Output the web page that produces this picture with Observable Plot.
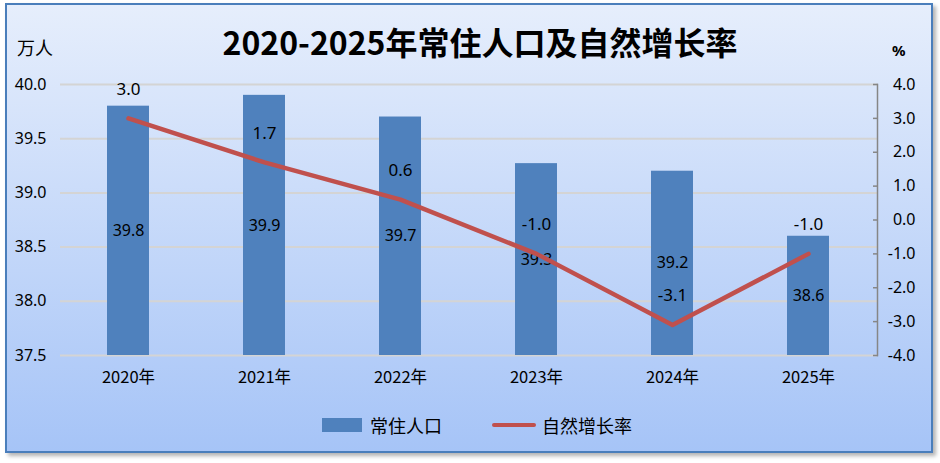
<!DOCTYPE html>
<html>
<head>
<meta charset="utf-8">
<script src="https://cdn.jsdelivr.net/npm/d3@7"></script>
<script src="https://cdn.jsdelivr.net/npm/@observablehq/plot@0.6"></script>
<style>
  html, body { margin: 0; padding: 0; background: #ffffff; }
  #wrap { position: relative; width: 940px; height: 463px; overflow: hidden; font-family: "Noto Sans", "Noto Sans CJK SC", sans-serif; }
  #box { position: absolute; left: 5px; top: 3px; width: 924px; height: 446px;
         border: 2.5px solid #4A7EBB; background: linear-gradient(#E6EEFC, #A6C4F7);
         box-shadow: 3px 3px 4px rgba(0,0,0,0.3); }
  #chart { position: absolute; left: 0; top: 0; }
  .t { position: absolute; color: #000; white-space: nowrap; }
  #title { left: 0; width: 960px; top: 21px; text-align: center; font-size: 32px; font-weight: bold;
           font-family: "Noto Sans CJK SC", sans-serif; line-height: 40px; }
  #unitL { left: 17px; top: 34px; font-size: 18px; font-family: "Noto Sans CJK SC", sans-serif; }
  #unitR { left: 892px; top: 40px; font-size: 15px; font-weight: bold; }
  #legend { left: 322px; top: 412px; font-size: 18px; font-family: "Noto Sans CJK SC", sans-serif; display: flex; align-items: center; }
  .sw { display: inline-block; }
</style>
</head>
<body>
<div id="wrap">
  <div id="box"></div>
  <div id="chart"></div>
  <div class="t" id="title">2020-2025年常住人口及自然增长率</div>
  <div class="t" id="unitL">万人</div>
  <div class="t" id="unitR">%</div>
  <div class="t" id="legend">
    <span class="sw" style="width:40px;height:14px;background:#4F81BD;"></span>
    <span style="margin-left:8px;">常住人口</span>
    <span class="sw" style="width:44px;height:4px;background:#C0504D;margin-left:50px;border-radius:2px;"></span>
    <span style="margin-left:6px;">自然增长率</span>
  </div>
</div>
<script>
const years = ["2020年", "2021年", "2022年", "2023年", "2024年", "2025年"];
const population = [39.8, 39.9, 39.7, 39.27, 39.2, 38.6];
const rate = [3.0, 1.7, 0.6, -1.0, -3.1, -1.0];
const leftTicks = [37.5, 38.0, 38.5, 39.0, 39.5, 40.0];
const rightTicks = [-4, -3, -2, -1, 0, 1, 2, 3, 4];

const yMin = 37.5, yMax = 40.0, rMin = -4, rMax = 4;
const toY = r => yMin + (r - rMin) * (yMax - yMin) / (rMax - rMin);

const data = years.map((year, i) => ({year, pop: population[i], rate: rate[i]}));

const chart = Plot.plot({
  width: 940,
  height: 463,
  marginLeft: 60,
  marginRight: 63,
  marginTop: 84,
  marginBottom: 108,
  style: {background: "transparent", fontFamily: "'Noto Sans', sans-serif", color: "#000"},
  x: {type: "band", domain: years, paddingInner: 0.69, paddingOuter: 0.345, label: null},
  y: {domain: [yMin, yMax], label: null},
  marks: [
    Plot.gridY(leftTicks, {stroke: "#D4D4D4", strokeOpacity: 1, strokeWidth: 2}),
    Plot.axisY(leftTicks, {anchor: "left", tickSize: 0, tickPadding: 14, fontSize: 16, tickFormat: d => d.toFixed(1), label: null}),
    Plot.axisX({anchor: "bottom", tickSize: 0, tickPadding: 16, fontSize: 16.5, fontFamily: "'Noto Sans CJK SC', sans-serif", label: null}),
    Plot.frame({anchor: "right", stroke: "#868686", strokeWidth: 1.5}),
    Plot.axisY(rightTicks.map(toY), {anchor: "right", tickSize: 5, dx: -5, stroke: "#868686", strokeWidth: 1.5, tickFormat: () => "", label: null}),
    Plot.text(rightTicks, {y: d => toY(d), frameAnchor: "right", dx: 38, textAnchor: "end", text: d => d.toFixed(1), fontSize: 16, fill: "#000"}),
    Plot.barY(data, {x: "year", y1: yMin, y2: "pop", fill: "#4F81BD"}),
    Plot.text(data, {x: "year", y: d => (d.pop + yMin) / 2, text: d => d.pop.toFixed(1), fontSize: 16, fill: "#000"}),
    Plot.line(data, {x: "year", y: d => toY(d.rate), stroke: "#C0504D", strokeWidth: 4.5, strokeLinecap: "round"}),
    Plot.text(data, {x: "year", y: d => toY(d.rate), dy: -29, text: d => d.rate.toFixed(1), fontSize: 17, fill: "#000"})
  ]
});
document.getElementById("chart").appendChild(chart);
</script>
</body>
</html>
